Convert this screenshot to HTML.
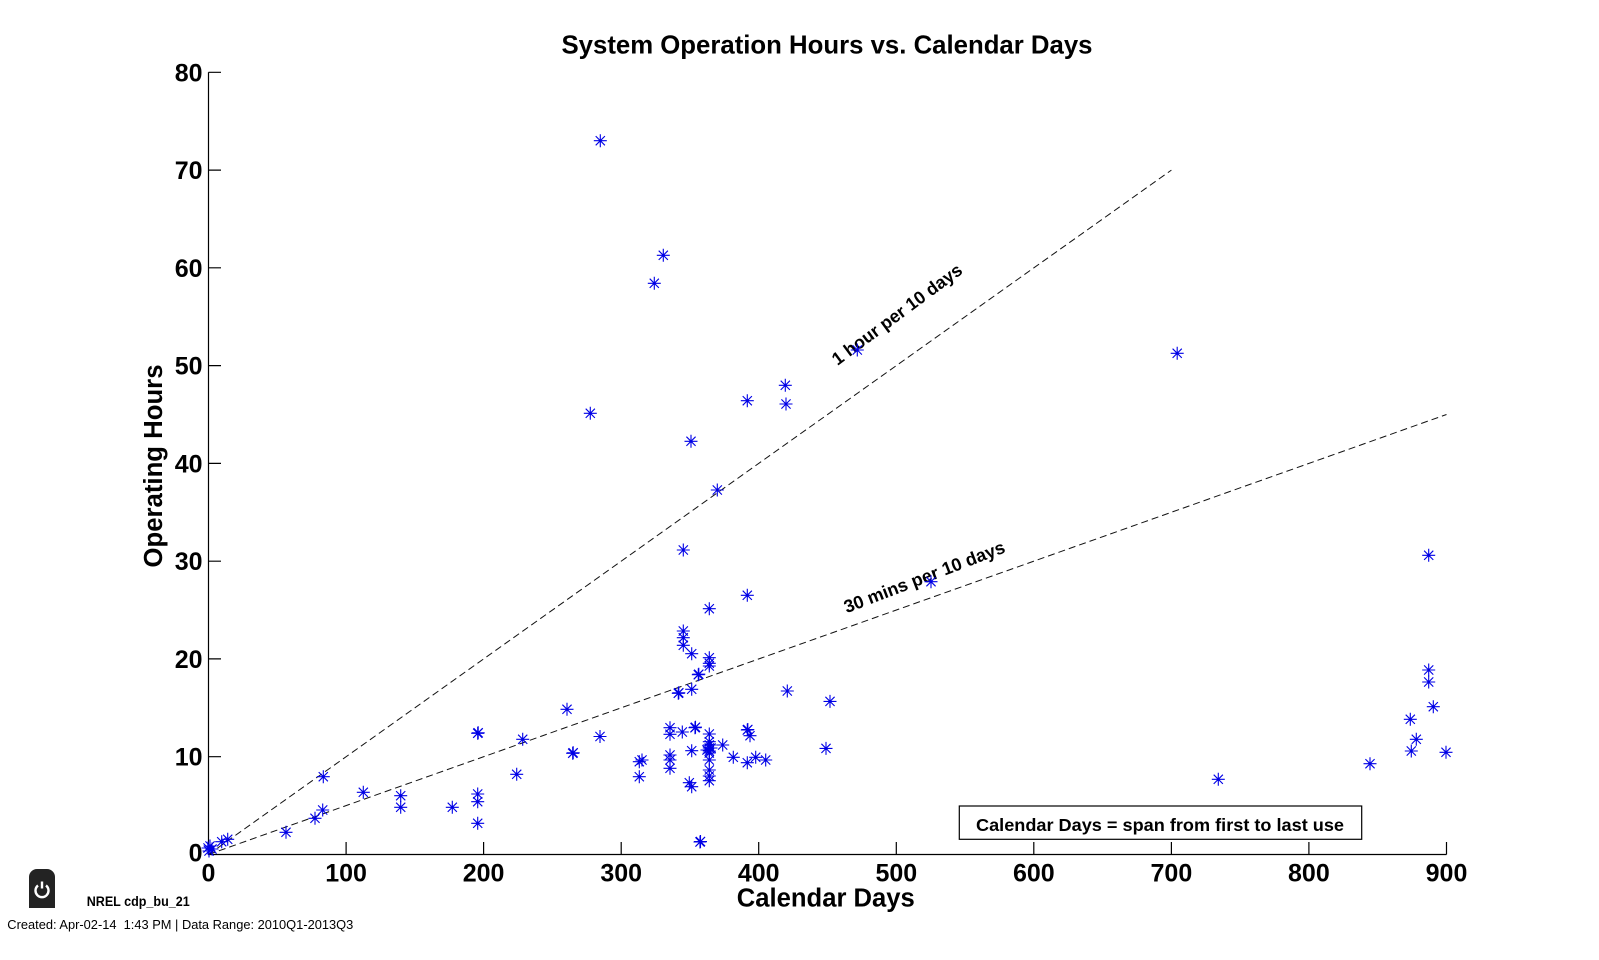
<!DOCTYPE html>
<html>
<head>
<meta charset="utf-8">
<style>
html,body{margin:0;padding:0;background:#fff;}
svg{display:block;}
text{font-family:"Liberation Sans",Arial,sans-serif;}
</style>
</head>
<body>
<svg width="1599" height="960" viewBox="0 0 1599 960" xmlns="http://www.w3.org/2000/svg">
<defs>
<g id="m">
<path d="M-6.5,0H6.5M0,-6.5V6.5M-4.6,-4.6L4.6,4.6M-4.6,4.6L4.6,-4.6" stroke="#0000e6" stroke-width="1.1" fill="none"/>
<circle r="1.4" fill="#0000e6"/>
</g>
</defs>
<rect width="1599" height="960" fill="#fff"/>

<!-- title -->
<text x="827" y="53.5" font-size="26" font-weight="bold" text-anchor="middle" textLength="531" lengthAdjust="spacingAndGlyphs">System Operation Hours vs. Calendar Days</text>

<!-- axes -->
<g stroke="#000" stroke-width="1.2" fill="none">
<path d="M208.5,72.3V854.5H1446.5"/>
<path d="M208.5,72.3h12.5M208.5,170.1h12.5M208.5,267.8h12.5M208.5,365.6h12.5M208.5,463.4h12.5M208.5,561.2h12.5M208.5,658.9h12.5M208.5,756.7h12.5"/>
<path d="M346.1,854.5v-12.5M483.6,854.5v-12.5M621.2,854.5v-12.5M758.7,854.5v-12.5M896.3,854.5v-12.5M1033.8,854.5v-12.5M1171.4,854.5v-12.5M1308.9,854.5v-12.5M1446.5,854.5v-12.5"/>
</g>

<!-- y tick labels -->
<g font-size="25" font-weight="bold" text-anchor="end">
<text x="202.5" y="81.3">80</text>
<text x="202.5" y="179.1">70</text>
<text x="202.5" y="276.8">60</text>
<text x="202.5" y="374.6">50</text>
<text x="202.5" y="472.4">40</text>
<text x="202.5" y="570.2">30</text>
<text x="202.5" y="667.9">20</text>
<text x="202.5" y="765.7">10</text>
<text x="202.5" y="861.7">0</text>
</g>
<!-- x tick labels -->
<g font-size="25" font-weight="bold" text-anchor="middle">
<text x="208.5" y="881.3">0</text>
<text x="346.1" y="881.3">100</text>
<text x="483.6" y="881.3">200</text>
<text x="621.2" y="881.3">300</text>
<text x="758.7" y="881.3">400</text>
<text x="896.3" y="881.3">500</text>
<text x="1033.8" y="881.3">600</text>
<text x="1171.4" y="881.3">700</text>
<text x="1308.9" y="881.3">800</text>
<text x="1446.5" y="881.3">900</text>
</g>

<!-- axis labels -->
<text x="825.8" y="906.7" font-size="25.5" font-weight="bold" text-anchor="middle" textLength="178" lengthAdjust="spacingAndGlyphs">Calendar Days</text>
<text transform="translate(162,466) rotate(-90)" font-size="25.5" font-weight="bold" text-anchor="middle" textLength="203" lengthAdjust="spacingAndGlyphs">Operating Hours</text>

<!-- reference lines -->
<g stroke="#111" stroke-width="1" stroke-dasharray="7 4" fill="none">
<path d="M208.5,854.5L1171.4,170.1"/>
<path d="M208.5,854.5L1446.5,414.5"/>
</g>
<text transform="translate(837.5,366) rotate(-36.5)" font-size="18" font-weight="bold" textLength="157" lengthAdjust="spacingAndGlyphs">1 hour per 10 days</text>
<text transform="translate(846.7,613.3) rotate(-21)" font-size="18" font-weight="bold" textLength="171" lengthAdjust="spacingAndGlyphs">30 mins per 10 days</text>

<!-- data markers -->
<g>
<use href="#m" x="208" y="848"/><use href="#m" x="209" y="851"/><use href="#m" x="210" y="846"/><use href="#m" x="212" y="849"/>
<use href="#m" x="221.7" y="841.7"/><use href="#m" x="227.7" y="839.3"/>
<use href="#m" x="286" y="832.3"/>
<use href="#m" x="315" y="818.3"/>
<use href="#m" x="322.7" y="810"/>
<use href="#m" x="323.3" y="776.7"/>
<use href="#m" x="363.3" y="792.3"/>
<use href="#m" x="400.7" y="795.7"/><use href="#m" x="400.7" y="807.3"/>
<use href="#m" x="452.3" y="807.3"/>
<use href="#m" x="477.7" y="794"/><use href="#m" x="477.7" y="801.7"/><use href="#m" x="477.7" y="823.3"/>
<use href="#m" x="477.7" y="733.3"/><use href="#m" x="478.2" y="732.8"/>
<use href="#m" x="516.7" y="774.3"/>
<use href="#m" x="522.7" y="739.3"/>
<use href="#m" x="567" y="709.3"/>
<use href="#m" x="572.7" y="753.3"/><use href="#m" x="573.2" y="752.8"/>
<use href="#m" x="600" y="736.5"/>
<use href="#m" x="639.3" y="761.7"/><use href="#m" x="642" y="760"/><use href="#m" x="639.3" y="776.7"/>
<use href="#m" x="670" y="727.7"/><use href="#m" x="670" y="734.3"/><use href="#m" x="670" y="755"/><use href="#m" x="670" y="760"/><use href="#m" x="670" y="768.3"/>
<use href="#m" x="682.3" y="732"/>
<use href="#m" x="695" y="727.7"/><use href="#m" x="695.5" y="727.2"/>
<use href="#m" x="709.3" y="734"/>
<use href="#m" x="709.3" y="741.7"/><use href="#m" x="709.3" y="745"/><use href="#m" x="709.3" y="748"/><use href="#m" x="709.3" y="751"/><use href="#m" x="709.3" y="753"/><use href="#m" x="711" y="748"/><use href="#m" x="707" y="750"/>
<use href="#m" x="722.7" y="745"/>
<use href="#m" x="691.7" y="750.7"/>
<use href="#m" x="709.3" y="760"/><use href="#m" x="709.3" y="770"/><use href="#m" x="709.3" y="776"/><use href="#m" x="709.3" y="780.7"/>
<use href="#m" x="689.3" y="782.7"/><use href="#m" x="691.7" y="786.7"/>
<use href="#m" x="733.3" y="757.3"/>
<use href="#m" x="747.3" y="730"/><use href="#m" x="747.8" y="729.5"/><use href="#m" x="750" y="735.7"/>
<use href="#m" x="747.3" y="762.7"/>
<use href="#m" x="755.7" y="757.3"/>
<use href="#m" x="765.7" y="760"/>
<use href="#m" x="700" y="842"/><use href="#m" x="700.5" y="841.5"/>
<use href="#m" x="747.3" y="595.3"/>
<use href="#m" x="709.3" y="608.7"/>
<use href="#m" x="683.3" y="631"/><use href="#m" x="683.3" y="637.7"/><use href="#m" x="683.3" y="645.3"/>
<use href="#m" x="691.7" y="653.7"/>
<use href="#m" x="709.3" y="657.7"/><use href="#m" x="709.3" y="663.3"/><use href="#m" x="709.3" y="666"/>
<use href="#m" x="698.3" y="674.7"/><use href="#m" x="698.8" y="674.2"/>
<use href="#m" x="691.7" y="689.3"/>
<use href="#m" x="678.3" y="693.3"/><use href="#m" x="678.8" y="692.8"/>
<use href="#m" x="787.3" y="691"/>
<use href="#m" x="830" y="701.4"/>
<use href="#m" x="826" y="748.4"/>
<use href="#m" x="600.3" y="140.7"/>
<use href="#m" x="663.3" y="255.3"/>
<use href="#m" x="654.3" y="283.3"/>
<use href="#m" x="590.3" y="413.3"/>
<use href="#m" x="691" y="441.3"/>
<use href="#m" x="747.3" y="400.7"/>
<use href="#m" x="785.3" y="385.3"/>
<use href="#m" x="786" y="404"/>
<use href="#m" x="717.3" y="490"/>
<use href="#m" x="683.3" y="550"/>
<use href="#m" x="857.3" y="350"/>
<use href="#m" x="931" y="581.7"/>
<use href="#m" x="1177.2" y="353.3"/>
<use href="#m" x="1218.3" y="779.3"/>
<use href="#m" x="1370" y="763.7"/>
<use href="#m" x="1410.3" y="719.3"/>
<use href="#m" x="1416.3" y="739.3"/>
<use href="#m" x="1411.3" y="751"/>
<use href="#m" x="1433.3" y="706.7"/>
<use href="#m" x="1428.7" y="670"/><use href="#m" x="1428.7" y="682"/>
<use href="#m" x="1428.7" y="555.3"/>
<use href="#m" x="1446" y="752.3"/>
</g>

<!-- annotation box -->
<rect x="959.3" y="806" width="402.4" height="33.3" fill="#fff" stroke="#000" stroke-width="1.2"/>
<text x="976" y="831" font-size="17.5" font-weight="bold" textLength="368" lengthAdjust="spacingAndGlyphs">Calendar Days = span from first to last use</text>

<!-- footer -->
<path d="M29,908V877a8,8 0 0 1 8,-8h10a8,8 0 0 1 8,8V908Z" fill="#232323"/>
<path d="M38,885.5a6.5,6.5 0 1 0 8,0" stroke="#fff" stroke-width="2.4" fill="none"/>
<path d="M42,881.5v7" stroke="#fff" stroke-width="2.4"/>
<text x="86.7" y="906" font-size="13.5" font-weight="bold" textLength="103" lengthAdjust="spacingAndGlyphs">NREL cdp_bu_21</text>
<text x="7.3" y="929" font-size="13" textLength="346" lengthAdjust="spacingAndGlyphs" style="white-space:pre">Created: Apr-02-14  1:43 PM | Data Range: 2010Q1-2013Q3</text>
</svg>
</body>
</html>
